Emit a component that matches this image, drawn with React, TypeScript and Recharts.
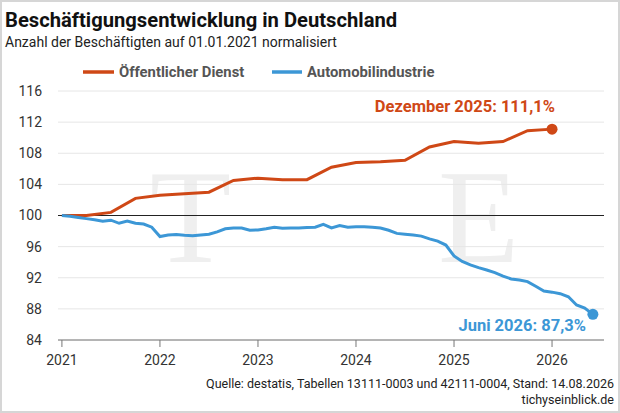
import React from 'react';
import { LineChart, Line, XAxis, YAxis, CartesianGrid, ReferenceLine } from 'recharts';

// Öffentlicher Dienst: 01.01.2021 then quarter ends up to Dezember 2025
const publicValues = [
  100.0, 100.0, 100.4, 102.2, 102.6, 102.8, 103.0, 104.5, 104.8, 104.6, 104.6,
  106.2, 106.8, 106.9, 107.1, 108.8, 109.5, 109.3, 109.5, 110.9, 111.1,
];
// Automobilindustrie: monthly, Januar 2021 .. Juni 2026
const autoValues = [
  100.0, 99.9, 99.75, 99.6, 99.45, 99.25, 99.4, 99.0, 99.3, 99.0, 98.9, 98.5,
  97.3, 97.5, 97.55, 97.45, 97.4, 97.5, 97.6, 97.9, 98.3, 98.4, 98.4, 98.1,
  98.15, 98.3, 98.5, 98.35, 98.4, 98.4, 98.45, 98.5, 98.85, 98.4, 98.7, 98.5,
  98.55, 98.55, 98.5, 98.4, 98.1, 97.7, 97.6, 97.5, 97.35, 97.0, 96.7, 96.2,
  94.8, 94.1, 93.65, 93.3, 93.0, 92.65, 92.2, 91.85, 91.7, 91.5, 90.9, 90.3,
  90.15, 89.95, 89.55, 88.5, 88.1, 87.3,
];
const startYear = 2021;
const xTicks = [2021, 2022, 2023, 2024, 2025, 2026];
const yTicks = [84, 88, 92, 96, 100, 104, 108, 112, 116];
const seriesNames = ['Öffentlicher Dienst', 'Automobilindustrie'];
const endLabels = ['Dezember 2025', 'Juni 2026'];

const RED = '#cf4816';
const BLUE = '#3c97d6';
const FONT = "Roboto, 'Noto Sans', sans-serif";

const publicData = publicValues.map((v, i) => ({ t: startYear + i * 0.25, v }));
const autoData = autoValues.map((v, i) => ({ t: startYear + i / 12, v }));

const fmt = (v: number) => v.toFixed(1).replace('.', ',');

const makeEndDot = (color: string, label: string, last: number, dx: number, dy: number) => (props: any) => {
  const { cx, cy, index, payload } = props;
  if (index !== last) return <g key={`d${index}`} />;
  return (
    <g key={`d${index}`}>
      <circle cx={cx} cy={cy} r={5.5} fill={color} />
      <text x={cx + dx} y={cy + dy} textAnchor="end" fill={color} fontSize={16.5} fontWeight={700} fontFamily={FONT}>
        {`${label}: ${fmt(payload.v)}%`}
      </text>
    </g>
  );
};

export default function App() {
  return (
    <div style={{ position: 'relative', width: 620, height: 413, background: '#fff', fontFamily: FONT, overflow: 'hidden' }}>
      <style>{'body{margin:0}'}</style>
      <svg width={620} height={413} style={{ position: 'absolute', left: 0, top: 0 }}>
        <text x={150} y={262} fontFamily="'Liberation Serif', serif" fontSize={133} fill="#efefef">T</text>
        <text x={438} y={262} fontFamily="'Liberation Serif', serif" fontSize={133} fill="#efefef">E</text>
      </svg>
      <div style={{ position: 'absolute', left: 0, top: 0 }}>
        <LineChart width={620} height={413} data={autoData} margin={{ top: 91, right: 16, bottom: 43, left: 0 }}>
          <CartesianGrid vertical={false} stroke="#e6e6e6" />
          <XAxis
            dataKey="t"
            type="number"
            domain={[2020.96, 2026.53]}
            ticks={xTicks}
            allowDataOverflow
            height={30}
            tickSize={7}
            tickMargin={8}
            stroke="#777"
            tick={{ fontSize: 14, fill: '#333', fontFamily: FONT }}
            tickFormatter={(v: number) => String(v)}
          />
          <YAxis
            type="number"
            domain={[84, 116]}
            ticks={yTicks}
            width={58}
            axisLine={false}
            tickLine={false}
            tickSize={6}
            tickMargin={10}
            tick={{ fontSize: 14, fill: '#333', fontFamily: FONT }}
          />
          <ReferenceLine y={100} stroke="#222" strokeWidth={1} />
          <Line
            data={publicData}
            dataKey="v"
            name={seriesNames[0]}
            stroke={RED}
            strokeWidth={3}
            isAnimationActive={false}
            dot={makeEndDot(RED, endLabels[0], publicData.length - 1, 3, -17)}
            activeDot={false}
          />
          <Line
            data={autoData}
            dataKey="v"
            name={seriesNames[1]}
            stroke={BLUE}
            strokeWidth={3}
            isAnimationActive={false}
            dot={makeEndDot(BLUE, endLabels[1], autoData.length - 1, -7, 17)}
            activeDot={false}
          />
        </LineChart>
      </div>
      <svg width={620} height={413} style={{ position: 'absolute', left: 0, top: 0, pointerEvents: 'none' }}>
        <text x={5} y={27} fontSize={20.2} fontWeight={700} fill="#111">Beschäftigungsentwicklung in Deutschland</text>
        <text x={5} y={47} fontSize={14} fill="#222">Anzahl der Beschäftigten auf 01.01.2021 normalisiert</text>
        <line x1={83} x2={114} y1={72} y2={72} stroke={RED} strokeWidth={3.5} />
        <text x={119} y={77} fontSize={14.8} fontWeight={700} fill="#555">{seriesNames[0]}</text>
        <line x1={272} x2={302} y1={72} y2={72} stroke={BLUE} strokeWidth={3.5} />
        <text x={307} y={77} fontSize={14.8} fontWeight={700} fill="#555">{seriesNames[1]}</text>
        <text x={614} y={388} textAnchor="end" fontSize={12.5} fill="#222">Quelle: destatis, Tabellen 13111-0003 und 42111-0004, Stand: 14.08.2026</text>
        <text x={614} y={404} textAnchor="end" fontSize={12.5} fill="#222">tichyseinblick.de</text>
        <rect x={1} y={1} width={618} height={411} fill="none" stroke="#d6d6d6" strokeWidth={2} />
      </svg>
    </div>
  );
}
